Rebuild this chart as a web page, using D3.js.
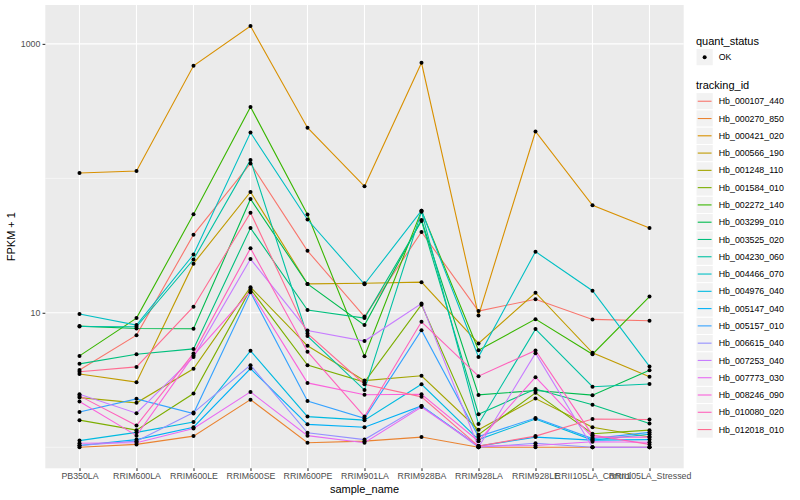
<!DOCTYPE html>
<html>
<head>
<meta charset="utf-8">
<script src="https://cdn.jsdelivr.net/npm/d3@7"></script>
<style>
body { margin: 0; background: #fff; }
text { font-family: "Liberation Sans", Arial, sans-serif; }
</style>
</head>
<body>
<svg id="chart" width="800" height="500"></svg>
<script>
// samples on the x axis
var samples = ["PB350LA", "RRIM600LA", "RRIM600LE", "RRIM600SE", "RRIM600PE", "RRIM901LA",
  "RRIM928BA", "RRIM928LA", "RRIM928LE", "RRII105LA_Control", "RRII105LA_Stressed"];

var trackingIds = ["Hb_000107_440", "Hb_000270_850", "Hb_000421_020", "Hb_000566_190", "Hb_001248_110",
  "Hb_001584_010", "Hb_002272_140", "Hb_003299_010", "Hb_003525_020", "Hb_004230_060",
  "Hb_004466_070", "Hb_004976_040", "Hb_005147_040", "Hb_005157_010", "Hb_006615_040",
  "Hb_007253_040", "Hb_007773_030", "Hb_008246_090", "Hb_010080_020", "Hb_012018_010"];

// FPKM + 1, one array per gene, in sample order
var hb_000107_440 = [3.76, 6.82, 38.1, 129, 28.9, 9.37, 39.9, 10.3, 12.6, 8.93, 8.72];
var hb_000270_850 = [1.0, 1.05, 1.21, 2.26, 1.08, 1.11, 1.19, 1.0, 1.0, 1.0, 1.0];
var hb_000421_020 = [109.7, 113.5, 687, 1357, 238, 87.3, 723, 9.53, 223, 63.0, 42.7];
var hb_000566_190 = [3.51, 3.05, 23.2, 79.2, 16.4, 16.6, 16.9, 5.92, 14.1, 5.04, 3.34];
var hb_001248_110 = [2.34, 2.14, 3.83, 15.5, 5.68, 3.13, 3.40, 1.35, 2.30, 1.41, 1.19];
var hb_001584_010 = [1.59, 1.34, 2.51, 15.0, 4.08, 3.05, 11.5, 1.24, 2.54, 1.26, 1.34];
var hb_002272_140 = [4.78, 9.13, 54.0, 340, 53.8, 4.76, 57.5, 5.26, 8.97, 4.92, 13.2];
var hb_003299_010 = [7.96, 7.65, 7.60, 70.2, 16.4, 8.10, 49.0, 2.45, 2.64, 2.44, 3.74];
var hb_003525_020 = [4.17, 4.92, 5.39, 42.7, 10.5, 9.13, 48.2, 1.76, 2.71, 2.07, 1.50];
var hb_004230_060 = [7.90, 7.87, 24.9, 137, 6.71, 2.66, 56.5, 1.49, 7.56, 2.82, 2.95];
var hb_004466_070 = [9.80, 8.10, 27.1, 219, 49.4, 16.3, 57.5, 4.70, 28.5, 14.6, 3.99];
var hb_004976_040 = [1.12, 1.29, 1.54, 5.21, 1.69, 1.59, 2.94, 1.14, 1.62, 1.13, 1.25];
var hb_005147_040 = [1.03, 1.14, 1.41, 3.85, 1.48, 1.41, 2.03, 1.02, 1.19, 1.13, 1.14];
var hb_005157_010 = [1.83, 2.29, 1.78, 14.2, 2.21, 1.64, 7.43, 1.20, 1.65, 1.16, 1.29];
var hb_006615_040 = [1.03, 1.11, 1.81, 4.08, 1.28, 1.14, 2.03, 1.0, 1.07, 1.0, 1.0];
var hb_007253_040 = [2.48, 1.79, 4.68, 25.1, 7.39, 6.16, 11.7, 1.0, 5.01, 1.0, 1.0];
var hb_007773_030 = [1.07, 1.08, 1.38, 2.58, 1.22, 1.08, 1.99, 1.02, 1.03, 1.10, 1.09];
var hb_008246_090 = [2.19, 1.22, 4.82, 14.5, 3.01, 2.46, 2.48, 1.11, 3.32, 1.19, 1.19];
var hb_010080_020 = [2.41, 1.45, 4.99, 30.2, 5.14, 1.69, 8.57, 3.38, 5.25, 1.23, 1.05];
var hb_012018_010 = [3.64, 3.96, 11.1, 55.5, 7.00, 2.94, 2.37, 1.02, 1.21, 1.62, 1.61];

var yBreaks = [10, 1000];
var yMinor = [1, 100];

// ggplot hue palette for 20 levels
var palette = ["#F8766D", "#EA8331", "#D89000", "#C09B00", "#A3A500", "#7CAE00", "#39B600", "#00BB4E",
  "#00BF7D", "#00C1A3", "#00BFC4", "#00BAE0", "#00B0F6", "#35A2FF", "#9590FF", "#C77CFF",
  "#E76BF3", "#FA62DB", "#FF62BC", "#FF6C91"];

var values = [hb_000107_440, hb_000270_850, hb_000421_020, hb_000566_190, hb_001248_110,
  hb_001584_010, hb_002272_140, hb_003299_010, hb_003525_020, hb_004230_060,
  hb_004466_070, hb_004976_040, hb_005147_040, hb_005157_010, hb_006615_040,
  hb_007253_040, hb_007773_030, hb_008246_090, hb_010080_020, hb_012018_010];

var series = trackingIds.map(function(id, i) {
  return { id: id, color: palette[i], pts: values[i].map(function(v, j) { return { s: samples[j], v: v }; }) };
});

var svg = d3.select("#chart");
var panel = { left: 45.3, right: 683.7, top: 5, bottom: 468.3 };

var x = d3.scalePoint().domain(samples).range([panel.left, panel.right]).padding(0.6);

// log scale with 5% expansion like ggplot
var all = d3.merge(values);
var lo = Math.log10(d3.min(all)), hi = Math.log10(d3.max(all)), pad = (hi - lo) * 0.05;
var y = d3.scaleLog().domain([Math.pow(10, lo - pad), Math.pow(10, hi + pad)]).range([panel.bottom, panel.top]);

// panel background + grid
svg.append("rect").attr("x", panel.left).attr("y", panel.top)
  .attr("width", panel.right - panel.left).attr("height", panel.bottom - panel.top)
  .attr("fill", "#EBEBEB");

var grid = svg.append("g");
grid.selectAll(".minor").data(yMinor).enter().append("line")
  .attr("x1", panel.left).attr("x2", panel.right)
  .attr("y1", function(d) { return y(d); }).attr("y2", function(d) { return y(d); })
  .attr("stroke", "#fff").attr("stroke-width", 0.55);
grid.selectAll(".major").data(yBreaks).enter().append("line")
  .attr("x1", panel.left).attr("x2", panel.right)
  .attr("y1", function(d) { return y(d); }).attr("y2", function(d) { return y(d); })
  .attr("stroke", "#fff").attr("stroke-width", 1.1);
grid.selectAll(".vx").data(samples).enter().append("line")
  .attr("x1", function(d) { return x(d); }).attr("x2", function(d) { return x(d); })
  .attr("y1", panel.top).attr("y2", panel.bottom)
  .attr("stroke", "#fff").attr("stroke-width", 1.1);

// lines
var line = d3.line().x(function(d) { return x(d.s); }).y(function(d) { return y(d.v); });
svg.append("g").selectAll("path").data(series).enter().append("path")
  .attr("d", function(d) { return line(d.pts); })
  .attr("fill", "none").attr("stroke", function(d) { return d.color; })
  .attr("stroke-width", 1.1);

// points
svg.append("g").selectAll("g").data(series).enter().append("g")
  .selectAll("circle").data(function(d) { return d.pts; }).enter().append("circle")
  .attr("cx", function(d) { return x(d.s); }).attr("cy", function(d) { return y(d.v); })
  .attr("r", 2).attr("fill", "#000");

// axes
var yAxis = svg.append("g").attr("transform", "translate(" + panel.left + ",0)")
  .call(d3.axisLeft(y).tickValues(yBreaks).tickFormat(d3.format("d")).tickSize(2.75).tickPadding(2.2));
var xAxis = svg.append("g").attr("transform", "translate(0," + panel.bottom + ")")
  .call(d3.axisBottom(x).tickSize(2.75).tickPadding(2.2));
[xAxis, yAxis].forEach(function(a) {
  a.select(".domain").remove();
  a.selectAll(".tick line").attr("stroke", "#333").attr("stroke-width", 1.07);
  a.selectAll(".tick text").attr("fill", "#4D4D4D").style("font-size", "8.8px")
    .style("font-family", "'Liberation Sans', Arial, sans-serif");
});

svg.append("text").attr("x", (panel.left + panel.right) / 2).attr("y", 493)
  .attr("text-anchor", "middle").style("font-size", "11px").text("sample_name");
svg.append("text").attr("transform", "translate(15," + (panel.top + panel.bottom) / 2 + ") rotate(-90)")
  .attr("text-anchor", "middle").style("font-size", "11px").text("FPKM + 1");

// legends
var lx = 696, key = 17.28;
var leg = svg.append("g");
leg.append("text").attr("x", lx).attr("y", 44.5).style("font-size", "11px").text("quant_status");
leg.append("rect").attr("x", lx).attr("y", 48.5).attr("width", key).attr("height", key)
  .attr("fill", "#F2F2F2").attr("stroke", "#fff");
leg.append("circle").attr("cx", lx + key / 2).attr("cy", 48.5 + key / 2).attr("r", 2).attr("fill", "#000");
leg.append("text").attr("x", lx + key + 5.5).attr("y", 48.5 + key / 2).attr("dy", "0.35em")
  .style("font-size", "8.8px").text("OK");

leg.append("text").attr("x", lx).attr("y", 88.5).style("font-size", "11px").text("tracking_id");
var items = leg.selectAll(".item").data(series).enter().append("g")
  .attr("transform", function(d, i) { return "translate(" + lx + "," + (92.6 + i * key) + ")"; });
items.append("rect").attr("width", key).attr("height", key).attr("fill", "#F2F2F2").attr("stroke", "#fff");
items.append("line").attr("x1", key * 0.1).attr("x2", key * 0.9).attr("y1", key / 2).attr("y2", key / 2)
  .attr("stroke", function(d) { return d.color; }).attr("stroke-width", 1.1);
items.append("text").attr("x", key + 5.5).attr("y", key / 2).attr("dy", "0.35em")
  .style("font-size", "8.8px").text(function(d) { return d.id; });
</script>
</body>
</html>
